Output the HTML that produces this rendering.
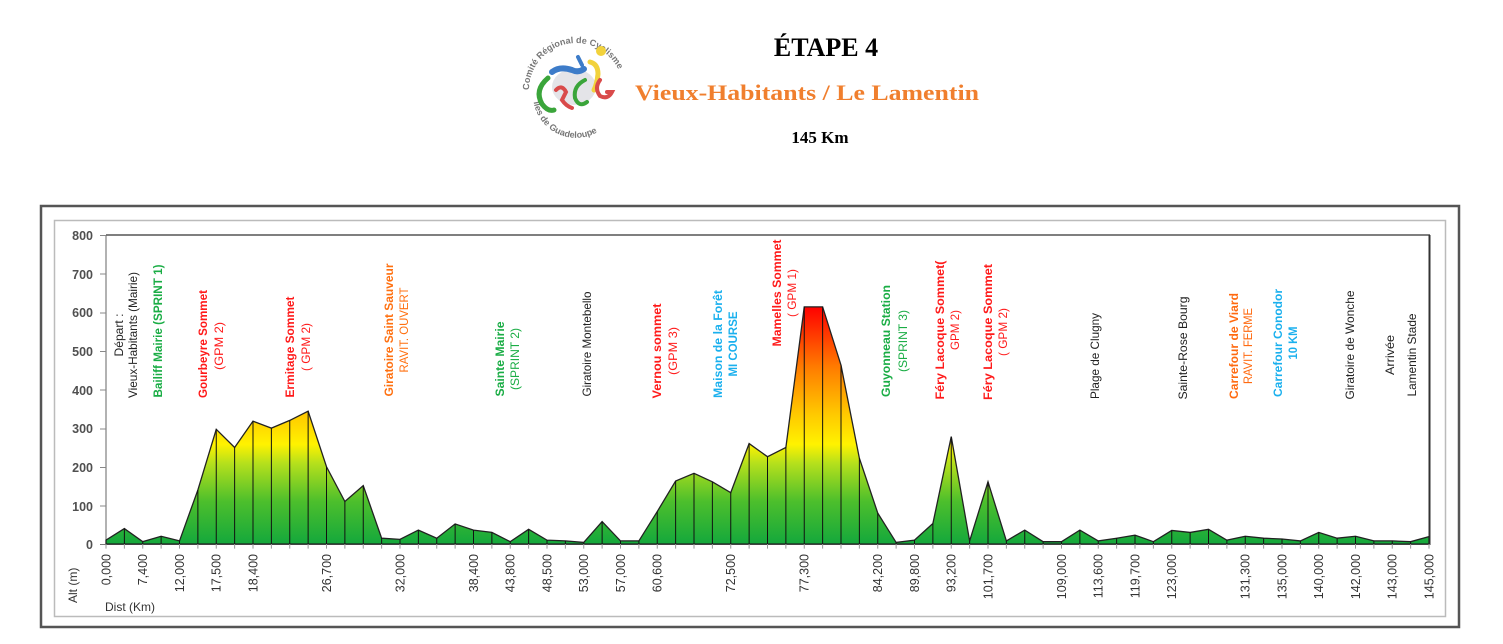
<!DOCTYPE html>
<html><head><meta charset="utf-8"><style>
html,body{margin:0;padding:0;background:#fff;width:1503px;height:644px;overflow:hidden}
svg{display:block}
</style></head><body>
<svg width="1503" height="644" viewBox="0 0 1503 644" xmlns="http://www.w3.org/2000/svg" font-family="Liberation Sans, Arial, sans-serif">
<defs>
<linearGradient id="g" gradientUnits="userSpaceOnUse" x1="0" y1="0" x2="0" y2="614">
<stop offset="0" stop-color="#14a83c"/>
<stop offset="0.18" stop-color="#4dbf2c"/>
<stop offset="0.34" stop-color="#b5e01c"/>
<stop offset="0.42" stop-color="#fff200"/>
<stop offset="0.55" stop-color="#ffc800"/>
<stop offset="0.75" stop-color="#ff7a00"/>
<stop offset="1" stop-color="#ff0000"/>
</linearGradient>
<path id="arcTop" d="M529,90 A47,47 0 0 1 623,90"/>
<path id="arcBot" d="M533,96 A43,43 0 0 0 618,104"/>
</defs>

<!-- Logo -->
<g>
<ellipse cx="574" cy="87" rx="22" ry="18" fill="#e4e4e8"/>
<text font-size="9" font-weight="bold" fill="#777"><textPath href="#arcTop">Comité Régional de Cyclisme</textPath></text>
<text font-size="9" font-weight="bold" fill="#777"><textPath href="#arcBot" startOffset="6">Iles de Guadeloupe</textPath></text>
<path d="M552,72 q8,-6 20,-2 q6,3 12,-1" stroke="#3d7cc9" stroke-width="6" fill="none" stroke-linecap="round"/>
<path d="M582,65 l-4,-8" stroke="#3d7cc9" stroke-width="4" fill="none" stroke-linecap="round"/>
<circle cx="601" cy="51" r="5" fill="#f2d23c"/>
<path d="M590,62 q8,2 8,12 q-1,10 -4,16" stroke="#f2d23c" stroke-width="5" fill="none" stroke-linecap="round"/>
<path d="M548,78 q-14,12 -6,26 q6,8 12,6" stroke="#3aa53a" stroke-width="5" fill="none" stroke-linecap="round"/>
<path d="M556,90 q6,-6 10,2 l-4,8 q4,6 10,8" stroke="#d94a4a" stroke-width="4" fill="none" stroke-linecap="round"/>
<path d="M585,80 q-12,6 -10,18 q4,10 12,4" stroke="#3aa53a" stroke-width="4" fill="none" stroke-linecap="round"/>
<path d="M600,80 q-6,8 0,16 q8,4 12,-4 l-5,0" stroke="#d94a4a" stroke-width="4" fill="none" stroke-linecap="round"/>
</g>

<text x="826" y="56" font-family="Liberation Serif, serif" font-weight="bold" font-size="26" text-anchor="middle" fill="#000">ÉTAPE 4</text>
<text x="807" y="100" font-family="Liberation Serif, serif" font-weight="bold" font-size="22" text-anchor="middle" fill="#f07f2e" textLength="344" lengthAdjust="spacingAndGlyphs">Vieux-Habitants / Le Lamentin</text>
<text x="820" y="143" font-family="Liberation Serif, serif" font-weight="bold" font-size="17" text-anchor="middle" fill="#000">145 Km</text>

<!-- frames -->
<rect x="41" y="206" width="1418" height="421" fill="none" stroke="#555" stroke-width="2.5"/>
<rect x="54.5" y="220.5" width="1391" height="396" fill="none" stroke="#bbb" stroke-width="1.5"/>
<line x1="106" y1="235" x2="1430" y2="235" stroke="#333" stroke-width="1.2"/>
<line x1="1429.5" y1="235" x2="1429.5" y2="545" stroke="#333" stroke-width="2"/>
<line x1="106" y1="235" x2="106" y2="545" stroke="#666" stroke-width="1"/>
<line x1="100" y1="544.5" x2="1430" y2="544.5" stroke="#777" stroke-width="1"/>

<!-- y axis -->
<g font-size="12.5" font-weight="bold" fill="#505050" text-anchor="end">
<text x="93" y="240">800</text><text x="93" y="279">700</text><text x="93" y="317">600</text><text x="93" y="356">500</text><text x="93" y="395">400</text><text x="93" y="433">300</text><text x="93" y="472">200</text><text x="93" y="511">100</text><text x="93" y="549">0</text>
</g>
<g stroke="#888" stroke-width="1">
<line x1="100" y1="235.5" x2="106" y2="235.5"/><line x1="100" y1="274" x2="106" y2="274"/><line x1="100" y1="313" x2="106" y2="313"/><line x1="100" y1="351.5" x2="106" y2="351.5"/><line x1="100" y1="390" x2="106" y2="390"/><line x1="100" y1="429" x2="106" y2="429"/><line x1="100" y1="467.5" x2="106" y2="467.5"/><line x1="100" y1="506" x2="106" y2="506"/>
</g>

<!-- profile -->
<g transform="translate(106,544) scale(18.375,-0.38625)">
<polygon fill="url(#g)" stroke="#222" stroke-width="1.3" vector-effect="non-scaling-stroke" points="0,0 0,10 1,40 2,6 3,20 4,8 5,140 6,297 7,250 8,318 9,300 10,320 11,344 12,200 13,110 14,151 15,15 16,12 17,36 18,15 19,52 20,36 21,30 22,6 23,38 24,10 25,8 26,4 27,58 28,8 29,8 30,84 31,163 32,183 33,161 34,133 35,260 36,226 37,250 38,614 39,614 40,463 41,222 42,80 43,4 44,10 45,53 46,278 47,8 48,161 49,8 50,36 51,6 52,6 53,36 54,8 55,15 56,23 57,6 58,35 59,30 60,38 61,10 62,20 63,15 64,13 65,8 66,30 67,15 68,20 69,8 70,8 71,6 72,19 72,0"/>
<path stroke="#111" stroke-width="1" vector-effect="non-scaling-stroke" fill="none" d="M1,0V40M2,0V6M3,0V20M4,0V8M5,0V140M6,0V297M7,0V250M8,0V318M9,0V300M10,0V320M11,0V344M12,0V200M13,0V110M14,0V151M15,0V15M16,0V12M17,0V36M18,0V15M19,0V52M20,0V36M21,0V30M22,0V6M23,0V38M24,0V10M25,0V8M26,0V4M27,0V58M28,0V8M29,0V8M30,0V84M31,0V163M32,0V183M33,0V161M34,0V133M35,0V260M36,0V226M37,0V250M38,0V614M39,0V614M40,0V463M41,0V222M42,0V80M43,0V4M44,0V10M45,0V53M46,0V278M47,0V8M48,0V161M49,0V8M50,0V36M51,0V6M52,0V6M53,0V36M54,0V8M55,0V15M56,0V23M57,0V6M58,0V35M59,0V30M60,0V38M61,0V10M62,0V20M63,0V15M64,0V13M65,0V8M66,0V30M67,0V15M68,0V20M69,0V8M70,0V8M71,0V6"/>
<path stroke="#999" stroke-width="1" vector-effect="non-scaling-stroke" fill="none" d="M0,0V-12M1,0V-12M2,0V-12M3,0V-12M4,0V-12M5,0V-12M6,0V-12M7,0V-12M8,0V-12M9,0V-12M10,0V-12M11,0V-12M12,0V-12M13,0V-12M14,0V-12M15,0V-12M16,0V-12M17,0V-12M18,0V-12M19,0V-12M20,0V-12M21,0V-12M22,0V-12M23,0V-12M24,0V-12M25,0V-12M26,0V-12M27,0V-12M28,0V-12M29,0V-12M30,0V-12M31,0V-12M32,0V-12M33,0V-12M34,0V-12M35,0V-12M36,0V-12M37,0V-12M38,0V-12M39,0V-12M40,0V-12M41,0V-12M42,0V-12M43,0V-12M44,0V-12M45,0V-12M46,0V-12M47,0V-12M48,0V-12M49,0V-12M50,0V-12M51,0V-12M52,0V-12M53,0V-12M54,0V-12M55,0V-12M56,0V-12M57,0V-12M58,0V-12M59,0V-12M60,0V-12M61,0V-12M62,0V-12M63,0V-12M64,0V-12M65,0V-12M66,0V-12M67,0V-12M68,0V-12M69,0V-12M70,0V-12M71,0V-12M72,0V-12"/>
</g>

<!-- x tick labels -->
<g font-size="12.5" fill="#333" text-anchor="end">
<text transform="translate(110.5,554) rotate(-90)">0,000</text>
<text transform="translate(147.2,554) rotate(-90)">7,400</text>
<text transform="translate(184,554) rotate(-90)">12,000</text>
<text transform="translate(220.7,554) rotate(-90)">17,500</text>
<text transform="translate(257.5,554) rotate(-90)">18,400</text>
<text transform="translate(331,554) rotate(-90)">26,700</text>
<text transform="translate(404.5,554) rotate(-90)">32,000</text>
<text transform="translate(478,554) rotate(-90)">38,400</text>
<text transform="translate(514.7,554) rotate(-90)">43,800</text>
<text transform="translate(551.5,554) rotate(-90)">48,500</text>
<text transform="translate(588.2,554) rotate(-90)">53,000</text>
<text transform="translate(625,554) rotate(-90)">57,000</text>
<text transform="translate(661.7,554) rotate(-90)">60,600</text>
<text transform="translate(735.2,554) rotate(-90)">72,500</text>
<text transform="translate(808.7,554) rotate(-90)">77,300</text>
<text transform="translate(882.2,554) rotate(-90)">84,200</text>
<text transform="translate(919,554) rotate(-90)">89,800</text>
<text transform="translate(955.7,554) rotate(-90)">93,200</text>
<text transform="translate(992.5,554) rotate(-90)">101,700</text>
<text transform="translate(1066,554) rotate(-90)">109,000</text>
<text transform="translate(1102.7,554) rotate(-90)">113,600</text>
<text transform="translate(1139.5,554) rotate(-90)">119,700</text>
<text transform="translate(1176.2,554) rotate(-90)">123,000</text>
<text transform="translate(1249.7,554) rotate(-90)">131,300</text>
<text transform="translate(1286.5,554) rotate(-90)">135,000</text>
<text transform="translate(1323.2,554) rotate(-90)">140,000</text>
<text transform="translate(1360,554) rotate(-90)">142,000</text>
<text transform="translate(1396.7,554) rotate(-90)">143,000</text>
<text transform="translate(1433.5,554) rotate(-90)">145,000</text>
</g>
<text transform="translate(77,603) rotate(-90)" font-size="12" fill="#333">Alt (m)</text>
<text x="105" y="611" font-size="12" fill="#333">Dist (Km)</text>

<!-- annotations -->
<g font-size="12" text-anchor="middle">
<text transform="translate(123,335) rotate(-90)" fill="#222" textLength="43" lengthAdjust="spacingAndGlyphs">Départ :</text>
<text transform="translate(137,335) rotate(-90)" fill="#222" textLength="126" lengthAdjust="spacingAndGlyphs">Vieux-Habitants (Mairie)</text>
<text transform="translate(162,331) rotate(-90)" fill="#1aad45" font-weight="bold" textLength="133" lengthAdjust="spacingAndGlyphs">Bailiff Mairie (SPRINT 1)</text>
<text transform="translate(207,344) rotate(-90)" fill="#ff1a1a" font-weight="bold" textLength="108" lengthAdjust="spacingAndGlyphs">Gourbeyre Sommet</text>
<text transform="translate(223,346) rotate(-90)" fill="#ff1a1a" textLength="48" lengthAdjust="spacingAndGlyphs">(GPM  2)</text>
<text transform="translate(294,347) rotate(-90)" fill="#ff1a1a" font-weight="bold" textLength="101" lengthAdjust="spacingAndGlyphs">Ermitage Sommet</text>
<text transform="translate(310,347) rotate(-90)" fill="#ff1a1a" textLength="48" lengthAdjust="spacingAndGlyphs">( GPM 2)</text>
<text transform="translate(393,330) rotate(-90)" fill="#ff7010" font-weight="bold" textLength="133" lengthAdjust="spacingAndGlyphs">Giratoire Saint Sauveur</text>
<text transform="translate(408,330) rotate(-90)" fill="#ff7010" textLength="85" lengthAdjust="spacingAndGlyphs">RAVIT. OUVERT</text>
<text transform="translate(504,359) rotate(-90)" fill="#1aad45" font-weight="bold" textLength="75" lengthAdjust="spacingAndGlyphs">Sainte Mairie</text>
<text transform="translate(519,359) rotate(-90)" fill="#1aad45" textLength="62" lengthAdjust="spacingAndGlyphs">(SPRINT  2)</text>
<text transform="translate(591,344) rotate(-90)" fill="#222" textLength="105" lengthAdjust="spacingAndGlyphs">Giratoire Montebello</text>
<text transform="translate(661,351) rotate(-90)" fill="#ff1a1a" font-weight="bold" textLength="95" lengthAdjust="spacingAndGlyphs">Vernou  sommet</text>
<text transform="translate(677,351) rotate(-90)" fill="#ff1a1a" textLength="48" lengthAdjust="spacingAndGlyphs">(GPM  3)</text>
<text transform="translate(722,344) rotate(-90)" fill="#1ab0ee" font-weight="bold" textLength="108" lengthAdjust="spacingAndGlyphs">Maison de la Forêt</text>
<text transform="translate(737,344) rotate(-90)" fill="#1ab0ee" font-weight="bold" textLength="65" lengthAdjust="spacingAndGlyphs">MI COURSE</text>
<text transform="translate(781,293) rotate(-90)" fill="#ff1a1a" font-weight="bold" textLength="107" lengthAdjust="spacingAndGlyphs">Mamelles Sommet</text>
<text transform="translate(796,293) rotate(-90)" fill="#ff1a1a" textLength="48" lengthAdjust="spacingAndGlyphs">( GPM 1)</text>
<text transform="translate(890,341) rotate(-90)" fill="#1aad45" font-weight="bold" textLength="112" lengthAdjust="spacingAndGlyphs">Guyonneau Station</text>
<text transform="translate(907,341) rotate(-90)" fill="#1aad45" textLength="62" lengthAdjust="spacingAndGlyphs">(SPRINT  3)</text>
<text transform="translate(944,330) rotate(-90)" fill="#ff1a1a" font-weight="bold" textLength="139" lengthAdjust="spacingAndGlyphs">Féry Lacoque Sommet(</text>
<text transform="translate(959,330) rotate(-90)" fill="#ff1a1a" textLength="40" lengthAdjust="spacingAndGlyphs">GPM  2)</text>
<text transform="translate(992,332) rotate(-90)" fill="#ff1a1a" font-weight="bold" textLength="136" lengthAdjust="spacingAndGlyphs">Féry Lacoque Sommet</text>
<text transform="translate(1007,332) rotate(-90)" fill="#ff1a1a" textLength="48" lengthAdjust="spacingAndGlyphs">( GPM 2)</text>
<text transform="translate(1099,356) rotate(-90)" fill="#222" textLength="86" lengthAdjust="spacingAndGlyphs">Plage  de Clugny</text>
<text transform="translate(1187,348) rotate(-90)" fill="#222" textLength="103" lengthAdjust="spacingAndGlyphs">Sainte-Rose  Bourg</text>
<text transform="translate(1238,346) rotate(-90)" fill="#ff6a10" font-weight="bold" textLength="106" lengthAdjust="spacingAndGlyphs">Carrefour de Viard</text>
<text transform="translate(1252,346) rotate(-90)" fill="#ff6a10" textLength="76" lengthAdjust="spacingAndGlyphs">RAVIT. FERME</text>
<text transform="translate(1282,343) rotate(-90)" fill="#1ab0ee" font-weight="bold" textLength="108" lengthAdjust="spacingAndGlyphs">Carrefour Conodor</text>
<text transform="translate(1297,343) rotate(-90)" fill="#1ab0ee" font-weight="bold" textLength="33" lengthAdjust="spacingAndGlyphs">10 KM</text>
<text transform="translate(1354,345) rotate(-90)" fill="#222" textLength="109" lengthAdjust="spacingAndGlyphs">Giratoire de Wonche</text>
<text transform="translate(1394,355) rotate(-90)" fill="#222" textLength="40" lengthAdjust="spacingAndGlyphs">Arrivée</text>
<text transform="translate(1416,355) rotate(-90)" fill="#222" textLength="83" lengthAdjust="spacingAndGlyphs">Lamentin  Stade</text>
</g>
</svg>
</body></html>
